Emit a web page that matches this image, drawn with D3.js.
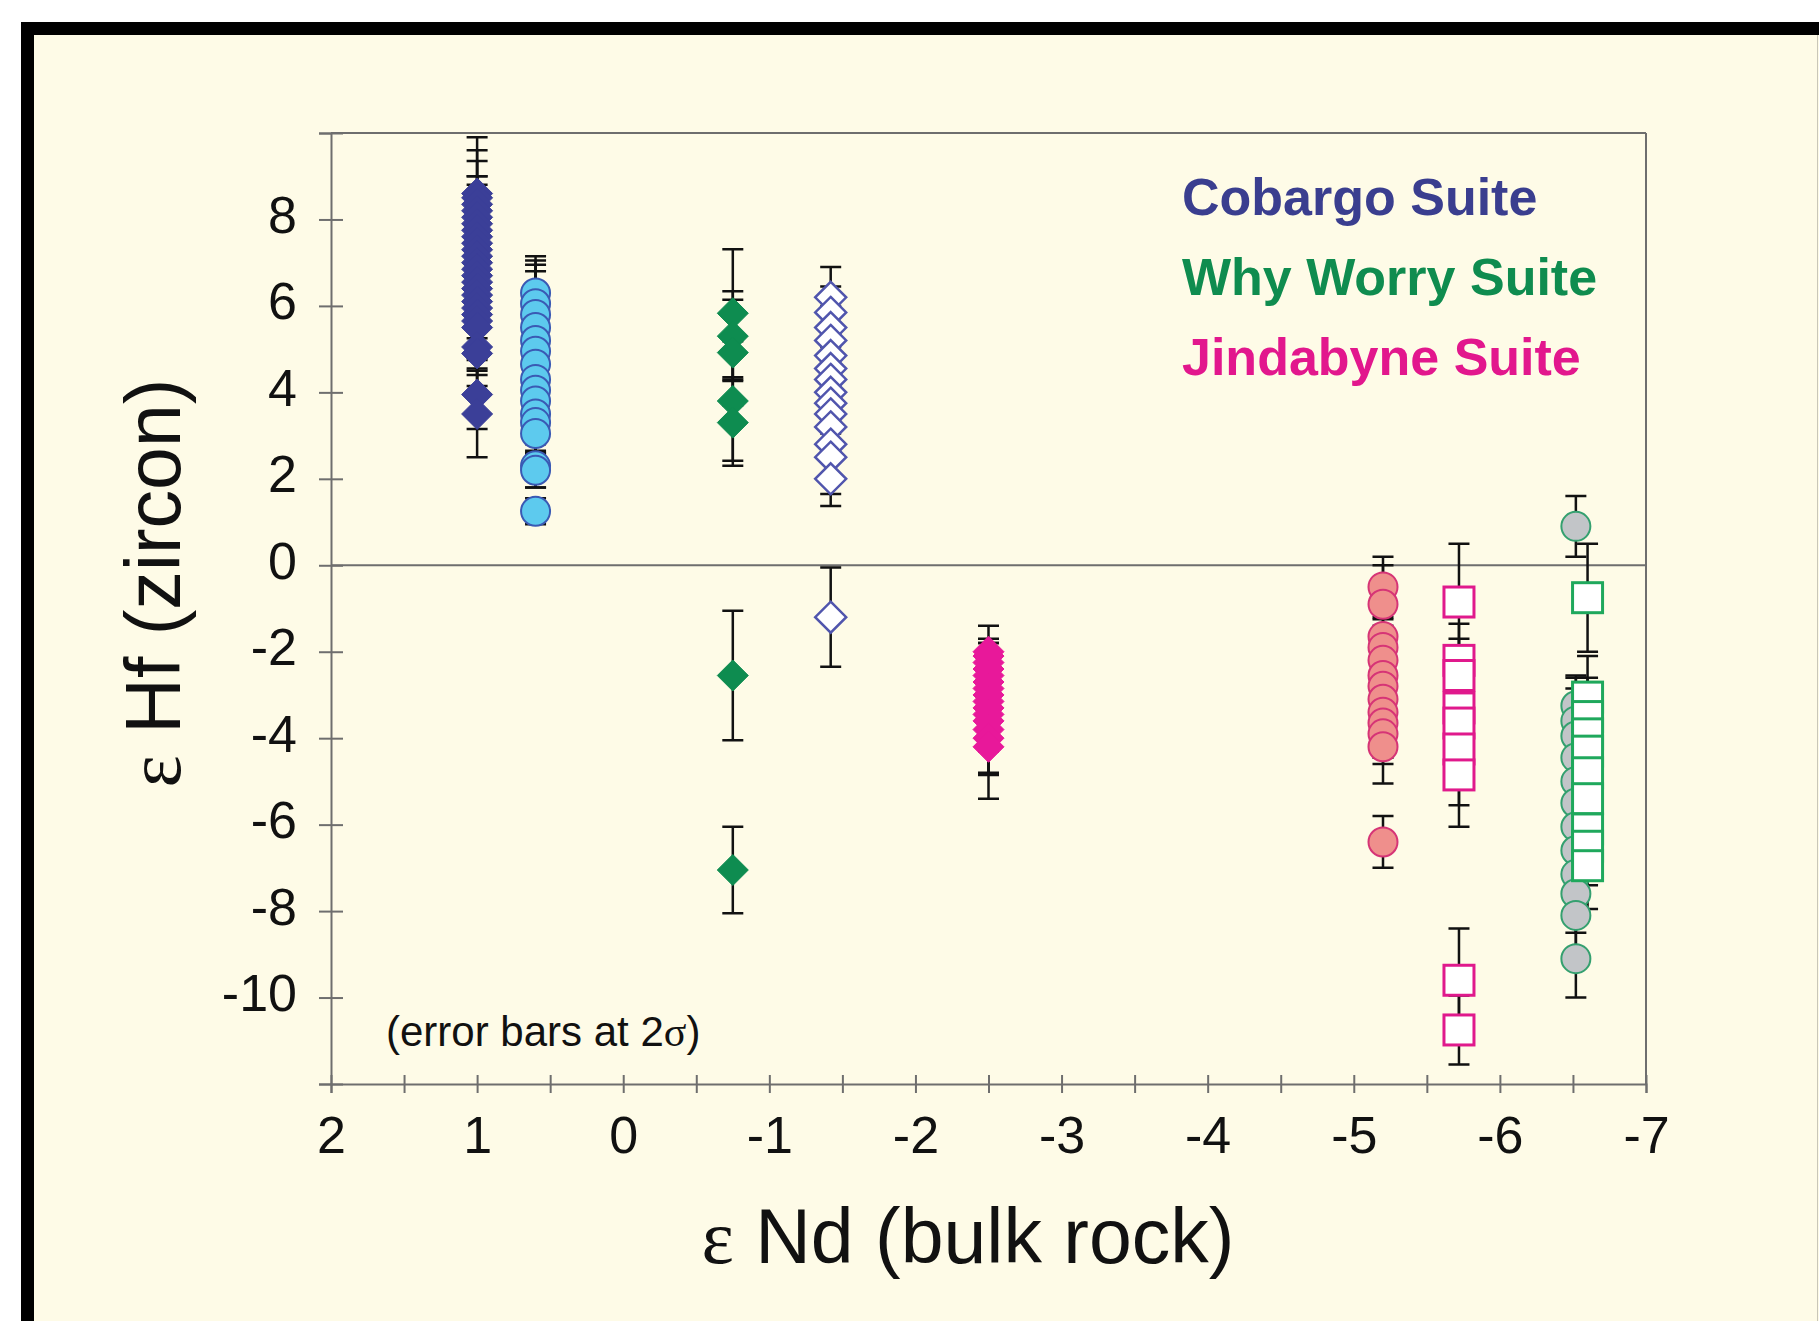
<!DOCTYPE html>
<html>
<head>
<meta charset="utf-8">
<script src="https://cdn.jsdelivr.net/npm/d3@7"></script>
<style>
  body { margin: 0; background: #fff; }
  svg { display: block; }
</style>
</head>
<body>
<svg width="1819" height="1321"></svg>
<script>
// x positions (eps Nd, bulk rock) of each sample column
let xCobargoDia = 1.0, xCobargoCirc = 0.6, xWhyWorryDia = -0.75, xOpenDia = -1.42,
    xJindaDia = -2.5, xSalmonCirc = -5.2, xPinkSq = -5.72, xGreyCirc = -6.52, xGreenSq = -6.6;

// eps Hf (zircon) values and 2 sigma errors, one pair of arrays per column
let cobargoDia    = [8.6, 8.5, 8.35, 8.2, 8.05, 7.9, 7.75, 7.6, 7.45, 7.3, 7.15, 7.0, 6.85, 6.7, 6.55, 6.4, 6.25, 6.1, 5.95, 5.8, 5.65, 5.5, 5.05, 4.9, 3.95, 3.5];
let cobargoDiaErr = [1.3, 1.1, 1.0, 0.8, 0.95, 0.9, 0.9, 0.8, 0.9, 0.85, 0.9, 0.8, 0.9, 0.8, 0.85, 0.9, 0.8, 0.85, 0.9, 0.8, 0.85, 1.35, 0.5, 0.5, 0.8, 1.0];

let cobargoCirc    = [6.3, 6.05, 5.8, 5.5, 5.2, 4.95, 4.65, 4.3, 4.05, 3.8, 3.5, 3.3, 3.05, 2.3, 2.2, 1.25];
let cobargoCircErr = [0.85, 1.0, 1.15, 1.3, 0.8, 0.9, 0.8, 0.9, 0.8, 0.9, 0.85, 0.7, 0.5, 0.5, 0.4, 0.3];

let whyWorryDia    = [5.83, 5.3, 4.92, 3.8, 3.3, -2.55, -7.05];
let whyWorryDiaErr = [1.48, 1.04, 1.22, 1.38, 1.0, 1.5, 1.0];

let openDia    = [6.2, 5.85, 5.5, 5.2, 4.85, 4.55, 4.3, 4.0, 3.75, 3.5, 3.2, 2.8, 2.5, 2.0, -1.2];
let openDiaErr = [0.7, 0.6, 0.7, 0.8, 0.7, 0.8, 0.75, 0.8, 0.7, 0.75, 0.75, 0.4, 0.85, 0.63, 1.15];

let jindaDia    = [-2.0, -2.1, -2.25, -2.4, -2.55, -2.7, -2.85, -3.0, -3.15, -3.3, -3.45, -3.6, -3.8, -4.0, -4.2];
let jindaDiaErr = [0.6, 0.4, 0.45, 0.6, 0.5, 0.6, 0.7, 0.6, 0.7, 0.8, 0.6, 0.7, 1.05, 0.8, 1.2];

let salmonCirc    = [-0.5, -0.9, -1.65, -1.9, -2.2, -2.55, -2.8, -3.1, -3.4, -3.65, -3.9, -4.2, -6.4];
let salmonCircErr = [0.7, 0.9, 0.4, 0.5, 0.6, 0.6, 0.7, 0.6, 0.7, 0.8, 0.7, 0.85, 0.6];

let pinkSq    = [-0.85, -2.2, -2.55, -3.3, -3.65, -4.25, -4.85, -9.6, -10.75];
let pinkSqErr = [1.35, 0.85, 0.85, 0.8, 1.1, 1.3, 1.2, 1.2, 0.8];

let greyCirc    = [0.9, -3.25, -3.6, -3.95, -4.45, -5.0, -5.5, -6.05, -6.6, -7.15, -7.6, -8.1, -9.1];
let greyCircErr = [0.7, 0.7, 1.0, 1.1, 0.9, 1.0, 0.9, 1.0, 1.0, 0.9, 0.9, 0.9, 0.9];

let greenSq    = [-0.75, -3.05, -3.5, -3.9, -4.3, -4.8, -5.4, -6.1, -6.5, -6.95];
let greenSqErr = [1.25, 0.95, 0.9, 0.9, 0.8, 0.9, 0.9, 0.9, 0.9, 1.0];

// axis ticks and labels
let xTicks = d3.range(-7, 2.01, 0.5);
let yTicks = d3.range(-12, 10.01, 2);
let legendLabels = ['Cobargo Suite', 'Why Worry Suite', 'Jindabyne Suite'];
let legendColors = ['#3a3e8f', '#0f8c4f', '#e2178d'];

let series = [
    {x: xCobargoDia,  v: cobargoDia,  e: cobargoDiaErr,  shape: 'diamond', fill: '#3b3f98', stroke: '#3b3f98', sw: 1},
    {x: xCobargoCirc, v: cobargoCirc, e: cobargoCircErr, shape: 'circle',  fill: '#5dcaee', stroke: '#3a5ab4', sw: 2},
    {x: xWhyWorryDia, v: whyWorryDia, e: whyWorryDiaErr, shape: 'diamond', fill: '#0e8c50', stroke: '#0e8c50', sw: 1},
    {x: xOpenDia,     v: openDia,     e: openDiaErr,     shape: 'diamond', fill: '#ffffff', stroke: '#5055ad', sw: 2.5},
    {x: xJindaDia,    v: jindaDia,    e: jindaDiaErr,    shape: 'diamond', fill: '#e8189a', stroke: '#e8189a', sw: 1},
    {x: xSalmonCirc,  v: salmonCirc,  e: salmonCircErr,  shape: 'circle',  fill: '#ef8f8c', stroke: '#d63476', sw: 2},
    {x: xPinkSq,      v: pinkSq,      e: pinkSqErr,      shape: 'square',  fill: '#ffffff', stroke: '#e0198c', sw: 3},
    {x: xGreyCirc,    v: greyCirc,    e: greyCircErr,    shape: 'circle',  fill: '#c2c5c8', stroke: '#34a06f', sw: 2},
    {x: xGreenSq,     v: greenSq,     e: greenSqErr,     shape: 'square',  fill: '#ffffff', stroke: '#1fa85c', sw: 3}
];

let svg = d3.select('svg');
let font = '"Liberation Sans", Arial, sans-serif';
let serif = '"Liberation Serif", "Times New Roman", serif';
let axisGrey = '#6e6e6e';

// page frame
svg.append('rect').attr('x', 21).attr('y', 22).attr('width', 1900).attr('height', 1400).attr('fill', '#000');
svg.append('rect').attr('x', 34).attr('y', 35).attr('width', 1900).attr('height', 1400).attr('fill', '#fefbe7');
svg.append('line').attr('x1', 1817.5).attr('x2', 1817.5).attr('y1', 35).attr('y2', 1321)
    .attr('stroke', '#c9c6b8').attr('stroke-width', 1);

let x = d3.scaleLinear().domain([2, -7]).range([331, 1646]);
let y = d3.scaleLinear().domain([-12, 10]).range([1084, 133]);

// axes
let gx = svg.append('g').attr('transform', `translate(0,${y(-12)})`)
    .call(d3.axisBottom(x).tickValues(xTicks).tickSizeOuter(0).tickSize(9)
        .tickFormat(d => Number.isInteger(d) ? String(d) : ''));
gx.selectAll('.tick line').attr('y1', -9).attr('y2', 9);
gx.selectAll('.tick text').attr('y', 69).attr('dy', null);

let gy = svg.append('g').attr('transform', `translate(${x(2)},0)`)
    .call(d3.axisLeft(y).tickValues(yTicks).tickSizeOuter(0).tickSize(12)
        .tickFormat(d => (d === -12 || d === 10) ? '' : String(d)));
gy.selectAll('.tick line').attr('x1', 12).attr('x2', -12);
gy.selectAll('.tick text').attr('x', -34).attr('y', 13).attr('dy', null);

[gx, gy].forEach(g => {
    g.selectAll('path.domain').attr('stroke', axisGrey).attr('stroke-width', 2);
    g.selectAll('.tick line').attr('stroke', axisGrey).attr('stroke-width', 2);
    g.selectAll('.tick text').attr('fill', '#111').attr('font-size', 52).attr('font-family', font);
});

// box top / right and zero line
svg.append('line').attr('x1', x(2)).attr('x2', x(-7)).attr('y1', y(10)).attr('y2', y(10))
    .attr('stroke', axisGrey).attr('stroke-width', 2);
svg.append('line').attr('x1', x(-7)).attr('x2', x(-7)).attr('y1', y(10)).attr('y2', y(-12))
    .attr('stroke', axisGrey).attr('stroke-width', 2);
svg.append('line').attr('x1', x(2)).attr('x2', x(-7)).attr('y1', y(0)).attr('y2', y(0))
    .attr('stroke', axisGrey).attr('stroke-width', 2);

// error bars
let cap = 10.5;
let eb = svg.append('g').attr('stroke', '#111').attr('stroke-width', 2.5).attr('fill', 'none');
series.forEach(s => {
    s.v.forEach((v, i) => {
        let px = x(s.x), y1 = y(v + s.e[i]), y2 = y(v - s.e[i]);
        eb.append('path').attr('d',
            `M${px},${y1}V${y2}M${px - cap},${y1}H${px + cap}M${px - cap},${y2}H${px + cap}`);
    });
});

// markers
let r = 15.5, rc = 14.5, hs = 15;
series.forEach(s => {
    let g = svg.append('g').attr('fill', s.fill).attr('stroke', s.stroke).attr('stroke-width', s.sw);
    s.v.forEach(v => {
        let px = x(s.x), py = y(v);
        if (s.shape === 'diamond') {
            g.append('path').attr('d', `M${px},${py - r}L${px + r},${py}L${px},${py + r}L${px - r},${py}Z`);
        } else if (s.shape === 'circle') {
            g.append('circle').attr('cx', px).attr('cy', py).attr('r', rc);
        } else {
            g.append('rect').attr('x', px - hs).attr('y', py - hs).attr('width', 2 * hs).attr('height', 2 * hs);
        }
    });
});

// legend
legendLabels.forEach((t, i) => {
    svg.append('text').attr('x', 1182).attr('y', 215 + i * 80)
        .attr('font-family', font).attr('font-weight', 'bold').attr('font-size', 52)
        .attr('fill', legendColors[i]).text(t);
});

// note
let note = svg.append('text').attr('x', 386).attr('y', 1046)
    .attr('font-family', font).attr('font-size', 42).attr('fill', '#111');
note.append('tspan').text('(error bars at 2');
note.append('tspan').attr('font-family', serif).text('σ');
note.append('tspan').text(')');

// axis titles
let yt = svg.append('text').attr('transform', 'translate(180,583) rotate(-90)')
    .attr('text-anchor', 'middle').attr('font-family', font).attr('font-size', 77).attr('fill', '#111');
yt.append('tspan').attr('font-family', serif).text('ε');
yt.append('tspan').text(' Hf (zircon)');

let xt = svg.append('text').attr('x', 968).attr('y', 1263)
    .attr('text-anchor', 'middle').attr('font-family', font).attr('font-size', 77).attr('fill', '#111');
xt.append('tspan').attr('font-family', serif).text('ε');
xt.append('tspan').text(' Nd (bulk rock)');
</script>
</body>
</html>
